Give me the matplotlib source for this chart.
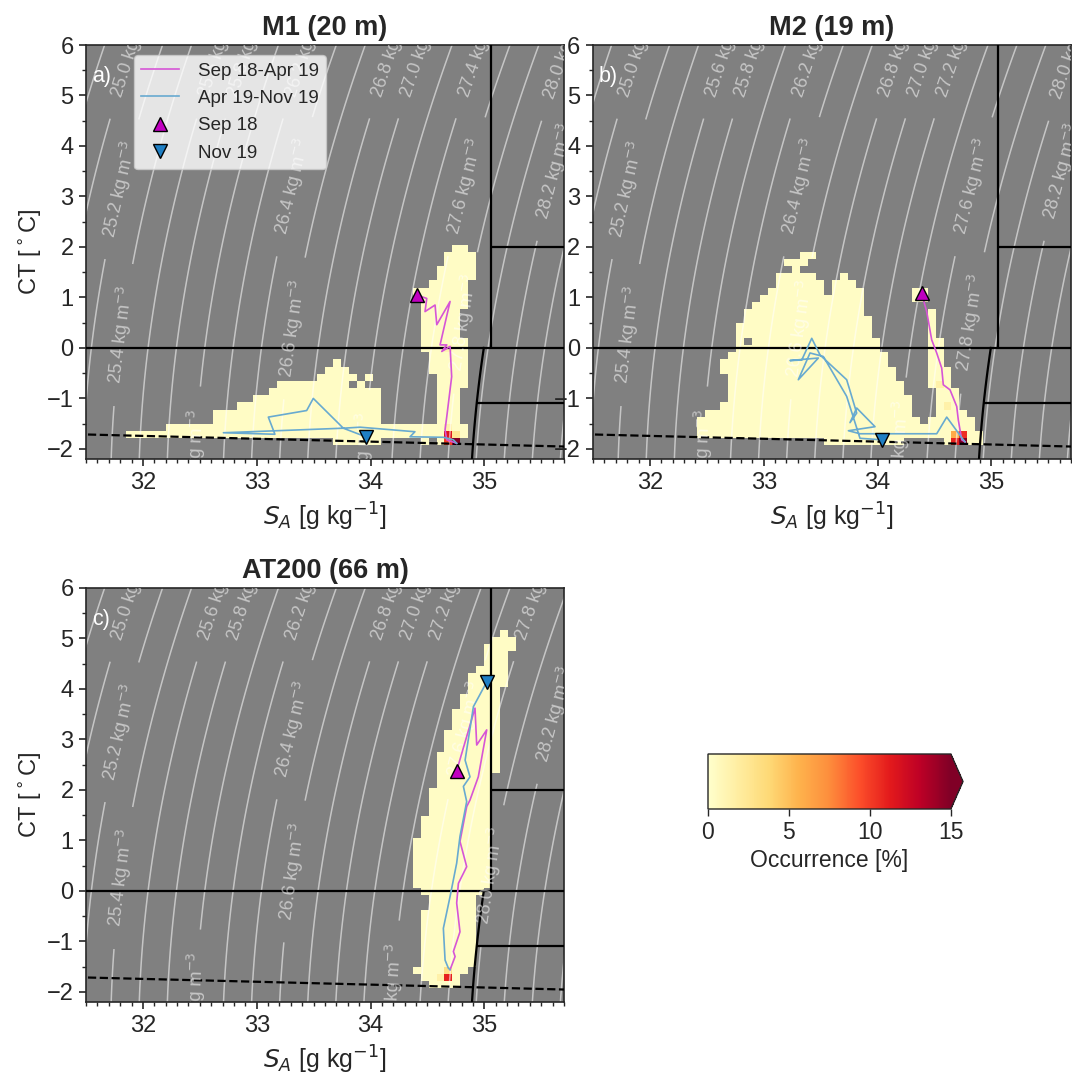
import numpy as np
import matplotlib.pyplot as plt
from matplotlib.lines import Line2D

plt.rcParams['font.family'] = ['Liberation Sans', 'DejaVu Sans']
plt.rcParams['text.color'] = '.15'
plt.rcParams['axes.labelcolor'] = '.15'
plt.rcParams['xtick.color'] = '.15'
plt.rcParams['ytick.color'] = '.15'
plt.rcParams['axes.edgecolor'] = '.15'

# ---------------- values ----------------
titles = ['M1 (20 m)', 'M2 (19 m)', 'AT200 (66 m)']
tags = ['a)', 'b)', 'c)']

# histogram bin edges (SA in g/kg, CT in degC)
sa_edges = np.round(31.5 + 0.07 * np.arange(61), 3)
ct_edges = np.round(-1.93 + 0.142 * np.arange(51), 3)
pale_pct = 0.3  # most occupied cells are close to 0 %

# occupied cells: row (from bottom) -> [(first col, last col), ...]
occ_a = {27: [(46, 47)], 26: [(45, 48)], 25: [(45, 48)], 24: [(44, 48)], 23: [(44, 48)],
         22: [(43, 47)], 21: [(41, 47)], 20: [(41, 47)], 19: [(42, 47)], 18: [(42, 46)],
         17: [(42, 46)], 16: [(42, 46)], 15: [(42, 46)], 14: [(42, 47)], 13: [(42, 47)],
         12: [(43, 47)], 11: [(31, 31), (43, 47)], 10: [(30, 32), (43, 47)],
         9: [(29, 33), (35, 35), (44, 47)], 8: [(24, 32), (34, 34), (44, 47)],
         7: [(23, 36), (44, 46)], 6: [(21, 36), (44, 46)], 5: [(19, 36), (44, 46)],
         4: [(16, 36), (44, 46)], 3: [(16, 36), (44, 46)], 2: [(10, 47)], 1: [(5, 47)],
         0: [(31, 36), (42, 42), (44, 46)]}
hot_a = [(1, 45, 11.5), (0, 45, 10.0), (0, 46, 16.0), (1, 46, 2.5), (2, 45, 1.5), (13, 45, 1.2)]

occ_b = {26: [(26, 27)], 25: [(24, 26)], 24: [(25, 25)], 23: [(23, 27), (31, 31)],
         22: [(23, 28), (30, 32)], 21: [(22, 28), (30, 33), (40, 41)], 20: [(21, 33), (40, 41)],
         19: [(20, 33)], 18: [(19, 33), (42, 42)], 17: [(19, 34), (42, 42)],
         16: [(18, 34), (42, 42)], 15: [(18, 34), (42, 42)], 14: [(18, 18), (20, 35), (42, 43)],
         13: [(18, 35), (42, 43)], 12: [(17, 36), (42, 43)], 11: [(16, 36), (42, 43)],
         10: [(16, 37), (42, 44)], 9: [(17, 37), (42, 44)], 8: [(17, 38), (42, 44)],
         7: [(17, 38), (43, 45)], 6: [(17, 39), (43, 45)], 5: [(16, 39), (43, 45)],
         4: [(14, 39), (43, 46)], 3: [(13, 40), (42, 47)], 2: [(13, 47)], 1: [(13, 48)],
         0: [(29, 38), (44, 48)]}
hot_b = [(1, 45, 6.0), (1, 46, 10.5), (0, 45, 11.0), (0, 46, 16.0), (8, 43, 1.5), (5, 44, 1.5)]

occ_c = {49: [(52, 52)], 48: [(51, 53)], 47: [(50, 53)], 46: [(50, 52)], 45: [(50, 52)],
         44: [(49, 52)], 43: [(48, 52)], 42: [(48, 52)], 41: [(48, 51)], 40: [(47, 51)],
         39: [(47, 51)], 38: [(46, 51)], 37: [(46, 51)], 36: [(46, 51)], 35: [(45, 51)],
         34: [(45, 51)], 33: [(45, 51)], 32: [(44, 51)], 31: [(44, 51)], 30: [(44, 51)],
         29: [(44, 50)], 28: [(44, 50)], 27: [(43, 50)], 26: [(43, 50)], 25: [(43, 50)],
         24: [(43, 50)], 23: [(42, 50)], 22: [(42, 50)], 21: [(42, 50)], 20: [(41, 50)],
         19: [(41, 50)], 18: [(41, 50)], 17: [(41, 50)], 16: [(41, 50)], 15: [(41, 50)],
         14: [(41, 50)], 13: [(42, 49)], 12: [(43, 48)], 11: [(43, 48)], 10: [(42, 48)],
         9: [(42, 48)], 8: [(42, 48)], 7: [(42, 48)], 6: [(42, 48)], 5: [(42, 48)],
         4: [(42, 48)], 3: [(42, 48)], 2: [(41, 47)], 1: [(42, 46)], 0: [(43, 46)]}
hot_c = [(1, 45, 11.0), (2, 45, 3.0), (1, 44, 1.5)]

# mean trajectories (Sep 18-Apr 19 magenta, Apr 19-Nov 19 blue)
mag_a_sa = [34.406, 34.494, 34.479, 34.567, 34.582, 34.699, 34.611, 34.67, 34.626, 34.699,
            34.713, 34.67, 34.655, 34.67, 34.757]
mag_a_ct = [1.05, 0.98, 0.72, 0.85, 0.46, 0.92, 0.06, 0.06, -0.07, 0.03, -0.57, -1.36, -1.62,
            -1.82, -1.89]
blue_a_sa = [34.757, 34.728, 34.64, 34.347, 34.39, 33.908, 33.761, 32.707, 33.16, 33.102,
             33.439, 33.497, 33.761, 33.958]
blue_a_ct = [-1.89, -1.82, -1.77, -1.76, -1.66, -1.57, -1.59, -1.68, -1.71, -1.37, -1.24, -1.0,
             -1.59, -1.76]

mag_b_sa = [34.388, 34.432, 34.476, 34.52, 34.564, 34.578, 34.637, 34.696, 34.71, 34.74, 34.769]
mag_b_ct = [1.08, 0.72, 0.16, -0.10, -0.40, -0.73, -0.83, -1.16, -1.43, -1.82, -1.86]
blue_b_sa = [34.769, 34.754, 34.608, 34.52, 33.846, 33.744, 33.978, 33.817, 33.758, 33.817,
             33.729, 33.495, 33.422, 33.334, 33.231, 33.48, 33.304, 33.407, 33.524, 33.729,
             33.846, 34.037]
blue_b_ct = [-1.86, -1.82, -1.37, -1.70, -1.70, -1.64, -1.56, -1.19, -1.48, -1.29, -0.63, -0.14,
             0.19, -0.24, -0.25, -0.20, -0.63, -0.10, -0.17, -0.96, -1.79, -1.82]

mag_c_sa = [34.757, 34.918, 34.933, 35.021, 34.947, 34.874, 34.845, 34.786, 34.845, 34.772,
            34.757, 34.786, 34.728, 34.743, 34.699]
mag_c_ct = [2.38, 3.62, 2.89, 3.19, 2.26, 1.80, 1.67, 0.98, 0.48, 0.15, -0.24, -0.81, -1.20,
            -1.30, -1.56]
blue_c_sa = [34.699, 34.684, 34.655, 34.64, 34.699, 34.757, 34.786, 34.845, 34.816, 34.874,
             34.831, 34.904, 35.021]
blue_c_ct = [-1.56, -1.53, -1.37, -0.74, -0.11, 0.55, 1.08, 1.77, 2.07, 2.26, 2.59, 3.65, 4.14]

# water mass boundaries
sa_aw = 35.06
ct_aw = 2.0
ct_lower = -1.1
sig_boundary = 27.97

# isopycnals drawn, and where along CT each label sits
sig_levels = np.round(np.arange(24.0, 29.01, 0.2), 1)
label_ct_a = {25.0: 5.9, 25.2: 3.15, 25.4: 0.26, 25.6: 5.9, 25.8: 5.9, 26.0: -2.18, 26.2: 5.9,
              26.4: 3.2, 26.6: 0.39, 26.8: 5.9, 27.0: 5.9, 27.2: -2.25, 27.4: 5.9, 27.6: 3.2,
              27.8: 0.5, 28.0: 5.85, 28.2: 3.5}
label_ct_b = dict(label_ct_a)
label_ct_b.update({27.2: 5.9, 27.4: -2.0})
label_ct_c = dict(label_ct_b)
label_ct_c.update({27.8: 5.9, 28.0: 0.3})

mag_color = '#d655d6'
blue_color = '#68aad0'


def sigma0(sa, ct):
    # EOS-80 surface density, practical salinity from absolute salinity
    s = sa * 35.0 / 35.16504
    t = ct
    rho_w = (999.842594 + 6.793952e-2 * t - 9.095290e-3 * t**2 + 1.001685e-4 * t**3
             - 1.120083e-6 * t**4 + 6.536332e-9 * t**5)
    a = 8.24493e-1 - 4.0899e-3 * t + 7.6438e-5 * t**2 - 8.2467e-7 * t**3 + 5.3875e-9 * t**4
    b = -5.72466e-3 + 1.0227e-4 * t - 1.6546e-6 * t**2
    c = 4.8314e-4
    return rho_w + a * s + b * s**1.5 + c * s**2 - 1000.0


def freezing_ct(sa):
    s = sa * 35.0 / 35.16504
    return -0.0575 * s + 1.710523e-3 * s**1.5 - 2.154996e-4 * s**2


def sa_on_isopycnal(level, ct):
    sa_line = np.linspace(30.0, 37.0, 2000)
    return np.interp(level, sigma0(sa_line, ct), sa_line)


def occurrence_grid(occ, hot):
    grid = np.full((len(ct_edges) - 1, len(sa_edges) - 1), np.nan)
    for row, spans in occ.items():
        for c0, c1 in spans:
            grid[row, c0:c1 + 1] = pale_pct
    for row, col, val in hot:
        grid[row, col] = val
    return np.ma.masked_invalid(grid)


fig = plt.figure(figsize=(10.72, 10.75), dpi=100)
W, H = 1072.0, 1075.0


def px_axes(left, top, width, height):
    return fig.add_axes([left / W, 1 - (top + height) / H, width / W, height / H])


ax_a = px_axes(86, 45, 478, 414)
ax_b = px_axes(593, 45, 478, 414)
ax_c = px_axes(86, 588, 478, 414)
cax = px_axes(708, 754, 255, 55)

sa_g = np.linspace(30.5, 36.5, 400)
ct_g = np.linspace(-3.5, 7.5, 400)
SA, CT = np.meshgrid(sa_g, ct_g)
SIG = sigma0(SA, CT)

panels = [
    (ax_a, occ_a, hot_a, mag_a_sa, mag_a_ct, blue_a_sa, blue_a_ct, label_ct_a),
    (ax_b, occ_b, hot_b, mag_b_sa, mag_b_ct, blue_b_sa, blue_b_ct, label_ct_b),
    (ax_c, occ_c, hot_c, mag_c_sa, mag_c_ct, blue_c_sa, blue_c_ct, label_ct_c),
]

for i, (ax, occ, hot, msa, mct, bsa, bct, lab_ct) in enumerate(panels):
    ax.set_facecolor('grey')
    mesh = ax.pcolormesh(sa_edges, ct_edges, occurrence_grid(occ, hot), cmap='YlOrRd',
                         vmin=0, vmax=15, zorder=1)

    cs = ax.contour(SA, CT, SIG, levels=sig_levels, colors='white', linewidths=1.1,
                    alpha=0.55, zorder=2)
    spots = [(sa_on_isopycnal(lev, c), c) for lev, c in lab_ct.items()]
    ax.clabel(cs, manual=spots, inline=True, inline_spacing=4, fontsize=13,
              fmt=lambda v: f'{v:.1f} kg m$^{{-3}}$')

    # water mass boundaries and freezing line
    ax.axhline(0, color='k', lw=1.6, zorder=3)
    ax.vlines(sa_aw, 0, 7, color='k', lw=1.6, zorder=3)
    ax.hlines(ct_aw, sa_aw, 36.5, color='k', lw=1.6, zorder=3)
    ct_iso = np.linspace(-2.6, 0, 40)
    ax.plot([sa_on_isopycnal(sig_boundary, c) for c in ct_iso], ct_iso, color='k', lw=1.6,
            zorder=3)
    ax.hlines(ct_lower, sa_on_isopycnal(sig_boundary, ct_lower), 36.5, color='k', lw=1.6,
              zorder=3)
    sa_f = np.linspace(31.0, 36.5, 50)
    ax.plot(sa_f, freezing_ct(sa_f), color='k', ls='--', lw=1.6, zorder=3)

    ax.plot(msa, mct, color=mag_color, lw=1.2, zorder=4)
    ax.plot(bsa, bct, color=blue_color, lw=1.2, zorder=4)
    ax.plot(msa[0], mct[0], ls='none', marker='^', ms=10, mfc='#c000c0', mec='k', mew=1,
            zorder=5)
    ax.plot(bsa[-1], bct[-1], ls='none', marker='v', ms=10, mfc='#1f7fc4', mec='k', mew=1,
            zorder=5)

    ax.set_xlim(31.5, 35.7)
    ax.set_ylim(-2.2, 6)
    ax.set_xticks([32, 33, 34, 35])
    ax.set_xticks(np.arange(31.5, 35.75, 0.1), minor=True)
    ax.set_yticks(np.arange(-2, 6.5, 1))
    ax.set_yticks(np.arange(-2, 6.5, 0.5), minor=True)
    ax.tick_params(which='major', length=5, width=1.2, labelsize=17, pad=4)
    ax.tick_params(which='minor', length=3, width=1.0)
    for sp in ax.spines.values():
        sp.set_linewidth(1.2)
    ax.set_title(titles[i], fontsize=19.5, fontweight='bold', pad=7)
    ax.set_xlabel('$S_A$ [g kg$^{-1}$]', fontsize=18, labelpad=5)
    if i != 1:
        ax.set_ylabel(r'CT [$^\circ$C]', fontsize=17, labelpad=2)
    ax.text(0.012, 0.923, tags[i], transform=ax.transAxes, color='w', fontsize=15.5,
            va='center', ha='left', zorder=6)

handles = [Line2D([], [], color=mag_color, lw=1.2),
           Line2D([], [], color=blue_color, lw=1.2),
           Line2D([], [], ls='none', marker='^', ms=10, mfc='#c000c0', mec='k', mew=1),
           Line2D([], [], ls='none', marker='v', ms=10, mfc='#1f7fc4', mec='k', mew=1)]
leg = ax_a.legend(handles, ['Sep 18-Apr 19', 'Apr 19-Nov 19', 'Sep 18', 'Nov 19'],
                  loc='upper left', bbox_to_anchor=(0.1, 0.976), borderaxespad=0,
                  fontsize=13.5, labelspacing=0.55, handletextpad=1.0,
                  framealpha=0.8, edgecolor='0.8', fancybox=True)
leg.set_zorder(10)

cb = fig.colorbar(mesh, cax=cax, orientation='horizontal', extend='max')
cb.set_ticks([0, 5, 10, 15])
cb.ax.tick_params(labelsize=16.5, length=5, width=1.0)
cb.set_label('Occurrence [%]', fontsize=16.5)
cb.outline.set_linewidth(1.0)

fig.savefig('out.png', dpi=100)
